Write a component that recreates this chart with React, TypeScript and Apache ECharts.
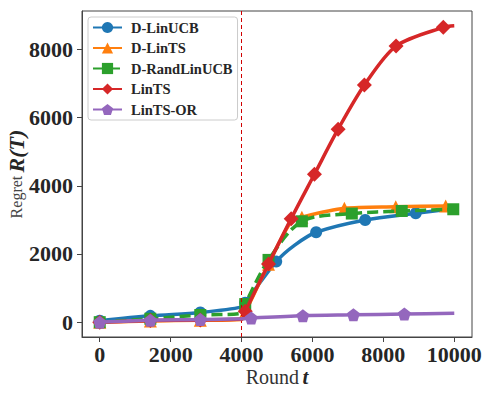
import React, { useEffect, useRef } from "react";
import * as echarts from "echarts";

const xTicks = [0, 2000, 4000, 6000, 8000, 10000];
const yTicks = [0, 2000, 4000, 6000, 8000];
const seriesNames = ["D-LinUCB", "D-LinTS", "D-RandLinUCB", "LinTS", "LinTS-OR"];
const colors = ["#1f77b4", "#ff7f0e", "#2ca02c", "#d62728", "#9467bd"];
const changePoint = 4000;

// marker points and extra (unmarked) curve points
const dLinUCBMarkers = [[0, 40], [1428, 185], [2837, 285], [4104, 570], [4977, 1776], [6104, 2637], [7487, 2998], [8913, 3194]];
const dLinUCBCurve = [[4000, 440], [5500, 2260], [10000, 3330]];

const dLinTSMarkers = [[0, 0], [1428, 35], [2837, 55], [4104, 290], [4761, 1700], [5701, 3080], [6901, 3340], [8349, 3385], [9758, 3410]];
const dLinTSCurve = [[4000, 80], [5400, 2950], [10000, 3412]];

const dRandMarkers = [[0, 0], [1428, 100], [2837, 210], [4104, 530], [4761, 1826], [5701, 2958], [7110, 3185], [8518, 3261], [9972, 3311]];
const dRandCurve = [[4000, 260]];

const linTSMarkers = [[0, 0], [1428, 47], [2837, 67], [4104, 320], [4761, 1708], [5400, 3036], [6056, 4337], [6724, 5659], [7465, 6954], [8358, 8097], [9690, 8645]];
const linTSCurve = [[4000, 90], [10000, 8690]];

const linTSORMarkers = [[0, 0], [1428, 55], [2837, 75], [4273, 120], [5730, 190], [7155, 215], [8592, 240]];
const linTSORCurve = [[4000, 100], [10000, 260]];

const symbols = ["circle", "triangle", "rect", "diamond", "path://M0,-1 L0.951,-0.309 L0.588,0.809 L-0.588,0.809 L-0.951,-0.309 Z"];
const symbolSizes = [12, 13, 12, 15, 13];

function build(markers: number[][], curve: number[][]) {
  const pts = [
    ...markers.map((p) => ({ v: p, m: true })),
    ...curve.map((p) => ({ v: p, m: false })),
  ].sort((a, b) => a.v[0] - b.v[0]);
  return pts.map((p) => (p.m ? { value: p.v } : { value: p.v, symbol: "none" }));
}

const FONT = "'Liberation Serif', 'DejaVu Serif', serif";

export default function App() {
  const ref = useRef<HTMLDivElement>(null);
  useEffect(() => {
    if (!ref.current) return;
    const chart = echarts.init(ref.current, null, { renderer: "svg" });
    const datasets = [
      build(dLinUCBMarkers, dLinUCBCurve),
      build(dLinTSMarkers, dLinTSCurve),
      build(dRandMarkers, dRandCurve),
      build(linTSMarkers, linTSCurve),
      build(linTSORMarkers, linTSORCurve),
    ];
    const series: any[] = datasets.map((d, i) => ({
      name: seriesNames[i],
      type: "line",
      data: d,
      smooth: 0.3,
      z: 2 + i,
      symbol: symbols[i],
      symbolSize: symbolSizes[i],
      showAllSymbol: true,
      lineStyle: { width: 3.5, color: colors[i], type: i === 2 ? [11, 5] : "solid" },
      itemStyle: { color: colors[i] },
      emphasis: { disabled: true },
    }));
    series[0].markLine = {
      silent: true,
      symbol: "none",
      label: { show: false },
      lineStyle: { color: "#d00000", width: 1, type: [4, 3] },
      data: [{ xAxis: changePoint }],
    };
    chart.setOption({
      animation: false,
      backgroundColor: "#ffffff",
      grid: {
        left: 82,
        right: 17,
        top: 11,
        bottom: 57,
        containLabel: false,
        outerBoundsMode: "none",
        show: true,
        borderColor: "#444",
        borderWidth: 1,
        backgroundColor: "transparent",
      },
      legend: {
        data: seriesNames,
        orient: "vertical",
        left: 88,
        top: 17,
        itemWidth: 29,
        itemHeight: 14,
        itemGap: 5.5,
        padding: [3, 5, 3, 4],
        backgroundColor: "rgba(255,255,255,0.8)",
        borderColor: "#cccccc",
        borderWidth: 1,
        borderRadius: 3,
        textStyle: {
          fontFamily: FONT,
          fontWeight: "bold",
          fontSize: 14.5,
          color: "#262626",
          padding: [0, 0, 0, 4],
        },
      },
      graphic: [
        {
          type: "text",
          x: 16,
          y: 174,
          rotation: Math.PI / 2,
          silent: true,
          style: {
            text: "{a|Regret} {b|R(T)}",
            align: "center",
            verticalAlign: "middle",
            rich: {
              a: { fontFamily: FONT, fontSize: 16, fill: "#444", color: "#444" },
              b: { fontFamily: FONT, fontSize: 22, fontWeight: "bold", fontStyle: "italic", fill: "#262626", color: "#262626" },
            },
          },
        },
        {
          type: "text",
          x: 277,
          y: 377,
          silent: true,
          style: {
            text: "{a|Round} {b|t}",
            align: "center",
            verticalAlign: "middle",
            rich: {
              a: { fontFamily: FONT, fontSize: 20, fill: "#333", color: "#333" },
              b: { fontFamily: FONT, fontSize: 21, fontWeight: "bold", fontStyle: "italic", fill: "#262626", color: "#262626" },
            },
          },
        },
      ],
      xAxis: {
        type: "value",
        min: -500,
        max: 10500,
        splitLine: { show: false },
        axisLine: { show: true, onZero: false, lineStyle: { color: "#444", width: 1 } },
        axisTick: { show: true, customValues: xTicks, length: 5, lineStyle: { color: "#444" } },
        axisLabel: {
          customValues: xTicks,
          formatter: (v: number) => String(v),
          margin: 6,
          fontFamily: FONT,
          fontWeight: "bold",
          fontSize: 22,
          color: "#262626",
        },
      },
      yAxis: {
        type: "value",
        min: -435,
        max: 9125,
        splitLine: { show: false },
        axisLine: { show: true, onZero: false, lineStyle: { color: "#444", width: 1 } },
        axisTick: { show: true, customValues: yTicks, length: 5, lineStyle: { color: "#444" } },
        axisLabel: {
          customValues: yTicks,
          formatter: (v: number) => String(v),
          margin: 9,
          fontFamily: FONT,
          fontWeight: "bold",
          fontSize: 22,
          color: "#262626",
        },
      },
      series,
    });
    return () => chart.dispose();
  }, []);
  return <div ref={ref} style={{ width: 489, height: 394, position: "absolute", left: 0, top: 0 }} />;
}
